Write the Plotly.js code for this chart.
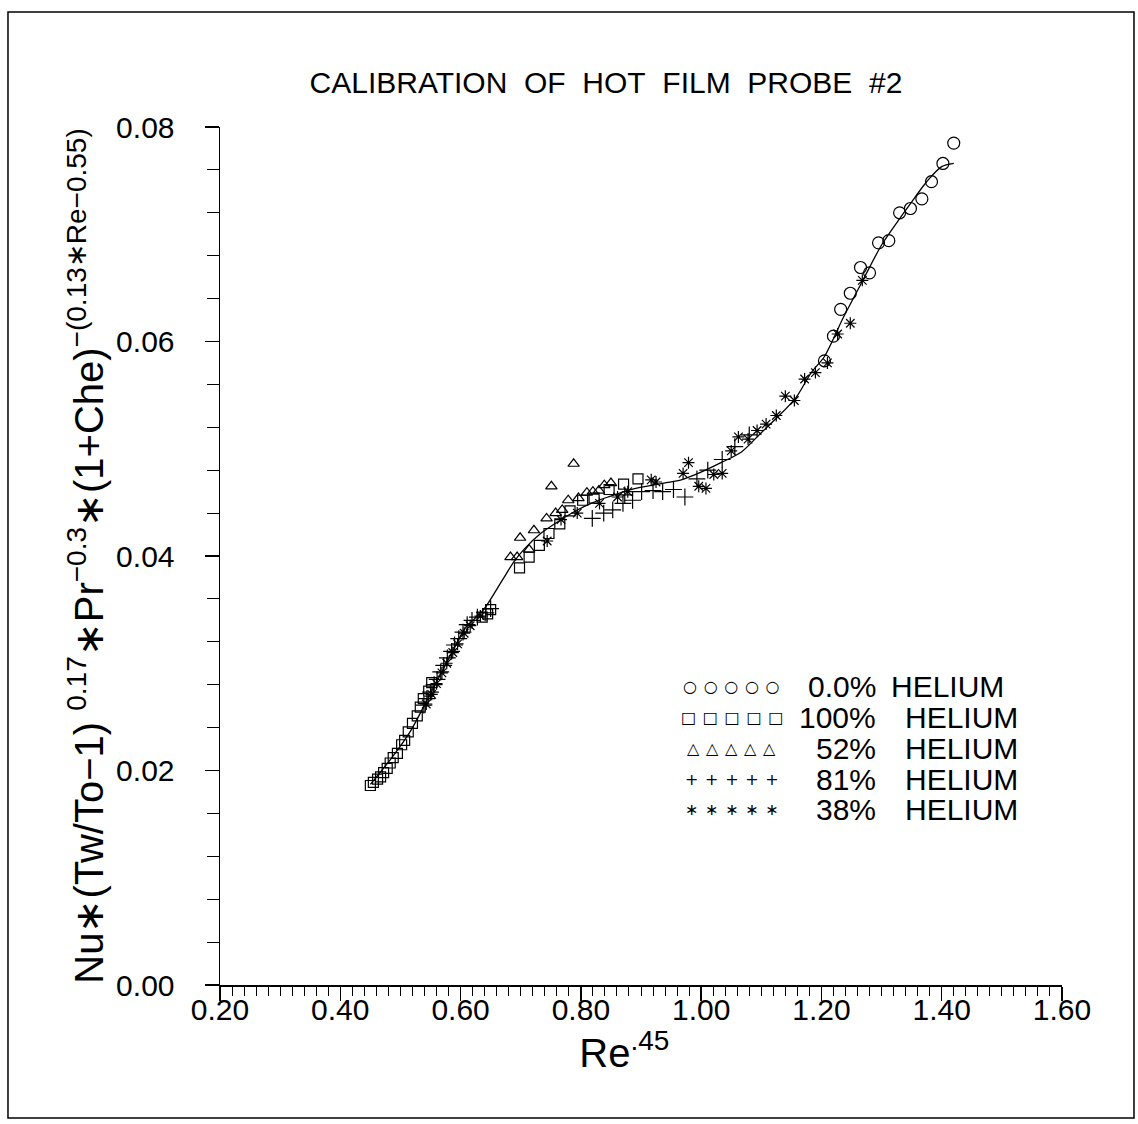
<!DOCTYPE html>
<html>
<head>
<meta charset="utf-8">
<script src="https://cdn.plot.ly/plotly-3.0.1.min.js"></script>
<style>
  html, body { margin: 0; padding: 0; background: #fff; }
  #chart { width: 1138px; height: 1124px; }
</style>
</head>
<body>
<div id="chart"></div>
<script>
// ---- Data ----
const fitX = [0.450,0.483,0.517,0.550,0.583,0.608,0.637,0.670,0.688,0.705,0.733,0.762,0.788,0.817,0.845,0.883,0.938,0.967,0.995,1.033,1.067,1.100,1.128,1.158,1.183,1.205,1.237,1.267,1.300,1.328,1.355,1.375,1.400,1.420];
const fitY = [0.0187,0.0210,0.0237,0.0272,0.0307,0.0333,0.0349,0.0378,0.0394,0.0406,0.0421,0.0432,0.0441,0.0449,0.0455,0.0462,0.0468,0.0471,0.0477,0.0487,0.0497,0.0515,0.0530,0.0548,0.0571,0.0586,0.0623,0.0655,0.0690,0.0713,0.0734,0.0749,0.0763,0.0766];

const he00X = [1.205,1.220,1.232,1.248,1.265,1.280,1.295,1.312,1.330,1.348,1.367,1.383,1.402,1.420];
const he00Y = [0.0582,0.0605,0.0630,0.0645,0.0669,0.0664,0.0692,0.0694,0.0720,0.0724,0.0733,0.0749,0.0766,0.0785];

const he100X = [0.450,0.455,0.462,0.467,0.472,0.478,0.483,0.488,0.495,0.502,0.507,0.513,0.520,0.528,0.533,0.538,0.547,0.552,0.636,0.645,0.650,0.698,0.714,0.731,0.747,0.765,0.782,0.803,0.822,0.847,0.871,0.895];
const he100Y = [0.0186,0.0189,0.0192,0.0194,0.0198,0.0202,0.0207,0.0212,0.0216,0.0224,0.0228,0.0236,0.0244,0.0251,0.0259,0.0267,0.0274,0.0282,0.0343,0.0346,0.0350,0.0389,0.0399,0.0410,0.0421,0.0430,0.0442,0.0452,0.0454,0.0462,0.0467,0.0472];

const he52X = [0.683,0.694,0.699,0.714,0.722,0.743,0.751,0.758,0.769,0.779,0.788,0.796,0.810,0.820,0.830,0.839,0.850];
const he52Y = [0.0399,0.0399,0.0417,0.0406,0.0424,0.0435,0.0465,0.0440,0.0443,0.0452,0.0486,0.0454,0.0459,0.0460,0.0461,0.0466,0.0468];

const he81X = [0.539,0.544,0.550,0.556,0.561,0.567,0.572,0.578,0.585,0.590,0.597,0.604,0.611,0.619,0.628,0.642,0.650,0.819,0.838,0.853,0.870,0.873,0.886,0.901,0.920,0.936,0.954,0.973,0.993,1.011,1.035,1.056,1.080];
const he81Y = [0.0261,0.0267,0.0273,0.0280,0.0285,0.0292,0.0298,0.0305,0.0311,0.0317,0.0323,0.0329,0.0336,0.0340,0.0343,0.0347,0.0351,0.0435,0.0440,0.0443,0.0449,0.0457,0.0452,0.0460,0.0461,0.0460,0.0462,0.0455,0.0472,0.0480,0.0490,0.0502,0.0513];

const he38X = [0.543,0.552,0.560,0.569,0.577,0.587,0.595,0.606,0.616,0.633,0.744,0.767,0.794,0.831,0.861,0.878,0.917,0.925,0.970,0.979,0.996,1.008,1.021,1.035,1.050,1.062,1.078,1.093,1.108,1.125,1.140,1.155,1.172,1.190,1.210,1.227,1.248,1.268];
const he38Y = [0.0262,0.0271,0.0281,0.0291,0.0300,0.0310,0.0318,0.0328,0.0335,0.0344,0.0414,0.0434,0.0440,0.0449,0.0455,0.0460,0.0471,0.0469,0.0477,0.0487,0.0465,0.0463,0.0476,0.0477,0.0498,0.0511,0.0509,0.0517,0.0523,0.0531,0.0549,0.0545,0.0565,0.0571,0.0580,0.0607,0.0617,0.0657];

const legendLabels = ['0.0%', '100%', '52%', '81%', '38%'];
const legendGlyphs = ['\u25CB', '\u25A1', '\u25B3', '+', '\u2217'];

const titleText = 'CALIBRATION\u00A0\u00A0OF\u00A0\u00A0HOT\u00A0\u00A0FILM\u00A0\u00A0PROBE\u00A0\u00A0#2';
const xTitle = 'Re<sup>.45</sup>\u00A0\u00A0\u00A0\u200B';
const yTitle = 'Nu\u2217(Tw/To\u22121)\u00A0<sup>0.17</sup>\u2217Pr<sup>\u22120.3</sup>\u2217(1+Che)<sup>\u2212(0.13\u2217Re\u22120.55)</sup>';

// ---- Traces ----
const mk = (x, y, symbol, size) => ({
  type: 'scatter', mode: 'markers', x: x, y: y, showlegend: false,
  cliponaxis: false,
  marker: { symbol: symbol, size: size, color: 'black', line: { color: 'black', width: 1.2 } }
});

const traces = [
  { type: 'scatter', mode: 'lines', x: fitX, y: fitY, showlegend: false,
    line: { color: 'black', width: 1.3, shape: 'spline', smoothing: 0.8 } },
  mk(he00X, he00Y, 'circle-open', 12),
  mk(he100X, he100Y, 'square-open', 10),
  mk(he52X, he52Y, 'triangle-up-open', 10),
  mk(he81X, he81Y, 'cross-thin-open', 12),
  mk(he38X, he38Y, 'asterisk-open', 10)
];

// ---- Legend as text annotations ----
const FONT = 'Liberation Sans, Arial, sans-serif';
const annotations = [];
legendLabels.forEach((lab, i) => {
  const yy = 0.3474 - i * 0.0358;
  annotations.push({ xref: 'paper', yref: 'paper', x: 0.608, y: yy, xanchor: 'center', yanchor: 'middle',
    text: Array(5).fill(legendGlyphs[i]).join('\u00A0\u200A'), showarrow: false,
    font: { family: 'DejaVu Sans', size: 16, color: 'black' } });
  annotations.push({ xref: 'paper', yref: 'paper', x: 0.781, y: yy, xanchor: 'right', yanchor: 'middle',
    text: lab, showarrow: false, font: { family: FONT, size: 30, color: 'black', weight: 300 } });
  annotations.push({ xref: 'paper', yref: 'paper', x: i === 0 ? 0.795 : 0.8115, y: yy, xanchor: 'left', yanchor: 'middle',
    text: 'HELIUM', showarrow: false, font: { family: FONT, size: 30, color: 'black', weight: 300 } });
});

const layout = {
  width: 1138, height: 1124,
  paper_bgcolor: 'white', plot_bgcolor: 'white',
  margin: { l: 220, r: 76, t: 127, b: 139 },
  font: { family: FONT, color: 'black' },
  title: { text: titleText, x: 0.5325, xref: 'container', xanchor: 'center', y: 0.927, yanchor: 'middle',
    font: { family: FONT, size: 30, color: 'black', weight: 300 } },
  xaxis: {
    range: [0.2, 1.6], dtick: 0.2, tick0: 0.2, tickformat: '.2f',
    showline: true, linecolor: 'black', linewidth: 1.5, zeroline: false, showgrid: false,
    ticks: 'outside', ticklen: 14, tickwidth: 1.3, tickcolor: 'black',
    minor: { dtick: 0.02, ticks: 'outside', ticklen: 9, tickwidth: 1, tickcolor: 'black', showgrid: false },
    tickfont: { family: FONT, size: 30, color: 'black' },
    ticklabelstandoff: -17,
    title: { text: xTitle, standoff: 0, font: { family: FONT, size: 40, color: 'black' } }
  },
  yaxis: {
    range: [0, 0.08], dtick: 0.02, tickformat: '.2f',
    showline: true, linecolor: 'black', linewidth: 1.5, zeroline: false, showgrid: false,
    ticks: 'outside', ticklen: 14, tickwidth: 1.3, tickcolor: 'black',
    minor: { dtick: 0.004, ticks: 'outside', ticklen: 12, tickwidth: 1, tickcolor: 'black', showgrid: false },
    tickfont: { family: FONT, size: 30, color: 'black' },
    ticklabelstandoff: 24,
    title: { text: yTitle, standoff: 0, font: { family: FONT, size: 40, color: 'black' } }
  },
  annotations: annotations,
  shapes: [
    { type: 'rect', xref: 'paper', yref: 'paper', x0: -0.2518, x1: 1.0855, y0: -0.155, y1: 1.134,
      line: { color: 'black', width: 1.5 }, fillcolor: 'rgba(0,0,0,0)', layer: 'below' }
  ]
};

Plotly.newPlot('chart', traces, layout, { staticPlot: true, displayModeBar: false });
</script>
</body>
</html>
